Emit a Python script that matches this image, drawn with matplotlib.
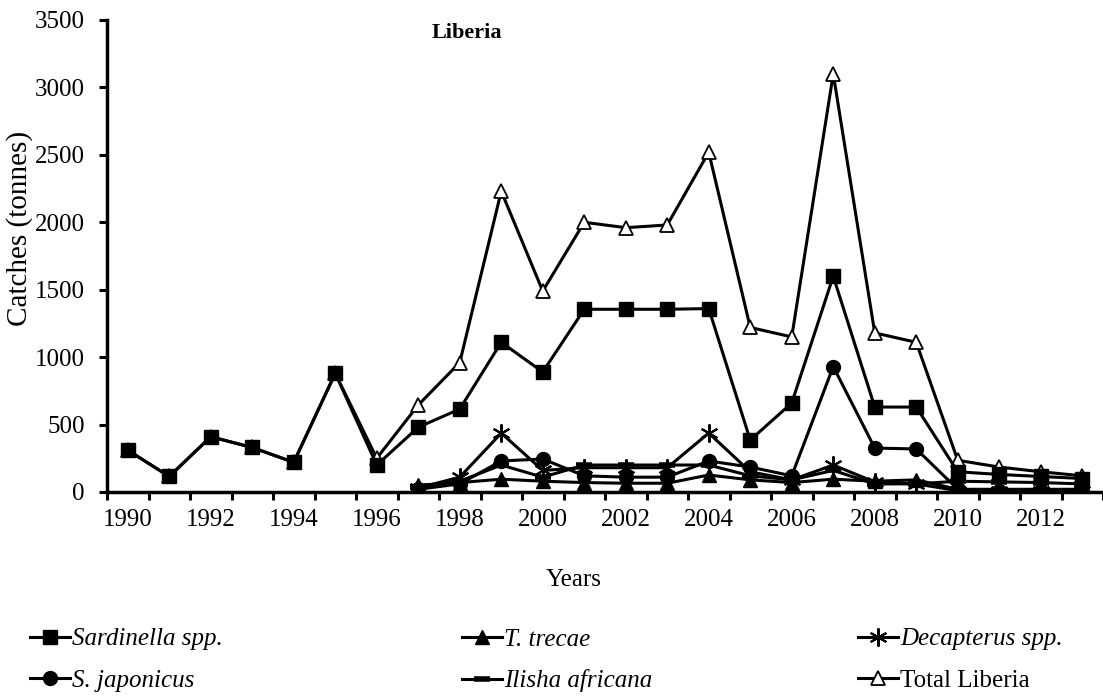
import matplotlib
matplotlib.use("Agg")
import matplotlib.pyplot as plt
import numpy as np

years = list(range(1990, 2014))
N = None
sardinella = [310, 115, 410, 330, 220, 880, 200, 480, 615, 1110, 890, 1355, 1355, 1355, 1360, 385, 660, 1600, 630, 630, 150, 130, 115, 100]
t_trecae = [N]*7 + [50, 70, 95, 80, 70, 65, 65, 126, 90, 70, 95, 80, 90, 20, 20, 20, 20]
decapterus = [N]*7 + [30, 110, 437, 160, 180, 180, 180, 437, 150, 90, 200, 74, 60, 10, 10, 10, 10]
s_japonicus = [N]*7 + [20, 60, 230, 245, 120, 110, 110, 230, 185, 120, 930, 326, 319, 20, 10, 10, 5]
ilisha = [N]*7 + [40, 80, 200, 110, 200, 200, 200, 200, 120, 90, 160, 60, 60, 80, 75, 70, 60]
total = [310, 115, 410, 330, 220, 880, 250, 645, 960, 2230, 1490, 2000, 1960, 1980, 2520, 1220, 1150, 3100, 1180, 1110, 235, 185, 150, 120]

plt.rcParams['font.family'] = ['Liberation Serif', 'DejaVu Serif']

fig = plt.figure(figsize=(11.03, 6.99), dpi=100)
ax = fig.add_axes([107/1103, 1-492/699, 1-107/1103, (492-20)/699])

x = np.arange(len(years))

def arr(v):
    return np.array([np.nan if a is None else a for a in v], dtype=float)

lw = 2.2
ms = 10
series = [
    ("Sardinella spp.", sardinella, dict(marker='s', markersize=ms, markerfacecolor='black', markeredgecolor='black'), True, 3),
    ("T. trecae", t_trecae, dict(marker='^', markersize=ms, markerfacecolor='black', markeredgecolor='black'), True, 3),
    ("Decapterus spp.", decapterus, dict(marker=(6, 2, 0), markersize=13, markeredgewidth=1.5, markeredgecolor='black'), True, 3),
    ("S. japonicus", s_japonicus, dict(marker='o', markersize=ms, markerfacecolor='black', markeredgecolor='black'), True, 3),
    ("Ilisha africana", ilisha, dict(marker='_', markersize=12, markeredgewidth=4, markeredgecolor='black'), True, 3),
    ("Total Liberia", total, dict(marker='^', markersize=ms, markerfacecolor='white', markeredgecolor='black', markeredgewidth=1.3), False, 2),
]
handles = {}
for name, vals, mk, ital, z in series:
    h, = ax.plot(x, arr(vals), color='black', lw=lw, zorder=z, **mk)
    handles[name] = (h, ital)

ax.set_xlim(-0.5, 23.5)
ax.set_ylim(0, 3500)
ax.set_yticks(np.arange(0, 3501, 500))
ax.set_xticks(np.arange(0, 24, 2))
ax.set_xticklabels([str(y) for y in years[::2]])
ax.set_xticks(np.arange(-0.5, 24, 1), minor=True)
ax.tick_params(axis='x', which='major', length=0, pad=12, labelsize=18)
ax.tick_params(axis='x', which='minor', length=6, width=2.2, direction='out')
ax.tick_params(axis='y', which='major', length=6, width=2.2, direction='out', labelsize=18, pad=10)
for s in ['top', 'right']:
    ax.spines[s].set_visible(False)
for s in ['left', 'bottom']:
    ax.spines[s].set_linewidth(2.5)

fig.text(467/1103, 1-33/699, "Liberia", ha='center', va='center', fontsize=16, fontweight='bold')
fig.text(20/1103, 1-228/699, "Catches (tonnes)", ha='center', va='center', rotation=90, fontsize=21)
fig.text(574/1103, 1-580/699, "Years", ha='center', va='center', fontsize=18)

cols = [
    (["Sardinella spp.", "S. japonicus"], 30),
    (["T. trecae", "Ilisha africana"], 462),
    (["Decapterus spp.", "Total Liberia"], 858),
]
for names, xpos in cols:
    hs = [handles[n][0] for n in names]
    leg = fig.legend(hs, names, loc='upper left', bbox_to_anchor=(xpos/1103, 1-628/699),
                     frameon=False, fontsize=18, handlelength=1.6, handletextpad=0.1,
                     labelspacing=0.75, borderaxespad=0, borderpad=0)
    for t, n in zip(leg.get_texts(), names):
        if handles[n][1]:
            t.set_fontstyle('italic')

fig.savefig("out.png", dpi=100)
